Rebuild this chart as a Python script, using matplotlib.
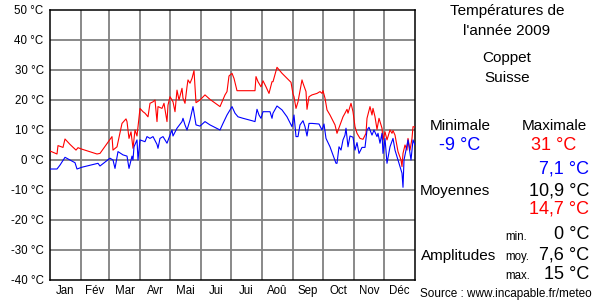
import matplotlib
matplotlib.use('Agg')
import matplotlib.pyplot as plt
import numpy as np

plt.rcParams['font.family'] = ['Liberation Sans', 'DejaVu Sans']

# daily max / min temperatures (day of year, degC)
max_days = [0, 7, 8, 13, 15, 20, 26, 28, 32, 47, 50, 62, 63, 67, 72, 76, 77, 79, 81, 83,
            85, 87, 88, 90, 93, 95, 98, 100, 103, 105, 107, 108, 112, 114, 117, 118, 120,
            123, 125, 127, 129, 132, 133, 135, 137, 138, 140, 142, 144, 146, 150, 155, 160,
            170, 175, 177, 179, 182, 184, 187, 205, 206, 208, 211, 213, 216, 219, 222, 223,
            227, 232, 241, 243, 244, 246, 248, 252, 253, 256, 257, 259, 262, 267, 270, 272,
            273, 275, 277, 280, 285, 287, 290, 293, 295, 297, 298, 301, 303, 305, 307, 310,
            313, 316, 317, 320, 322, 323, 325, 327, 329, 332, 333, 335, 337, 340, 342, 343,
            345, 348, 351, 352, 353, 355, 357, 358, 360, 362, 363, 365]
max_temps = [3.0, 2.0, 4.8, 4.2, 7.0, 5.2, 3.3, 4.1, 3.6, 2.0, 2.2, 7.8, 3.3, 4.4, 12.2, 13.7,
             12.8, 7.2, 9.4, 3.9, 10.0, 8.0, 11.1, 17.2, 16.1, 15.6, 14.4, 18.9, 19.4, 20.0,
             12.8, 17.8, 17.2, 18.9, 12.8, 18.3, 21.1, 19.4, 16.1, 23.3, 20.0, 23.9, 20.6,
             18.9, 24.4, 26.7, 25.6, 27.2, 29.8, 19.1, 20.0, 21.7, 20.2, 17.8, 21.7, 22.8,
             28.0, 28.9, 27.2, 23.1, 23.1, 27.8, 26.1, 24.4, 26.4, 24.4, 22.2, 26.1, 26.1,
             30.9, 28.9, 25.9, 22.0, 21.1, 17.2, 19.4, 26.7, 25.6, 22.8, 16.9, 21.1, 21.7,
             22.2, 22.8, 22.2, 23.1, 20.6, 16.7, 15.0, 11.7, 8.9, 11.7, 14.4, 15.6, 16.9,
             15.6, 18.9, 16.1, 11.1, 8.9, 7.2, 6.9, 8.9, 13.9, 17.8, 15.0, 17.2, 14.4, 10.2,
             13.9, 10.6, 6.7, 9.4, 6.7, 10.0, 8.9, 9.8, 8.3, 2.8, 0.0, -2.2, 2.2, 5.0, 3.3,
             7.2, 3.3, 7.2, 11.1, 11.0]

min_days = [0, 7, 10, 15, 20, 25, 27, 32, 48, 50, 60, 63, 65, 68, 73, 77, 79, 82, 83, 84,
            87, 88, 90, 95, 97, 100, 103, 107, 108, 110, 113, 117, 120, 122, 123, 127, 132,
            133, 135, 137, 140, 143, 146, 150, 155, 160, 170, 173, 177, 182, 185, 188, 193,
            202, 205, 207, 209, 211, 213, 220, 222, 223, 227, 232, 237, 242, 244, 246, 248,
            250, 253, 255, 257, 259, 262, 269, 272, 274, 276, 280, 286, 287, 289, 291, 293,
            295, 296, 298, 300, 303, 305, 307, 309, 312, 315, 317, 319, 322, 324, 327, 328,
            330, 332, 333, 335, 337, 340, 343, 345, 348, 350, 352, 353, 354, 356, 358, 361,
            363, 365]
min_temps = [-3.0, -3.0, -1.7, 0.9, 0.0, -0.9, -3.0, -2.4, -1.1, -2.0, 0.6, 0.0, -2.8, 2.8,
             1.7, 1.3, -2.8, 1.3, 0.0, 4.4, 6.7, 0.0, 6.7, 6.1, 7.8, 7.2, 7.8, 5.2, 3.9, 7.2,
             7.8, 5.6, 8.3, 10.0, 8.0, 10.6, 12.8, 13.9, 11.7, 10.0, 13.3, 17.8, 11.7, 11.3,
             12.8, 11.7, 10.0, 12.2, 15.0, 17.8, 15.6, 14.4, 13.9, 13.1, 12.8, 16.9, 15.0,
             13.9, 16.1, 16.1, 13.9, 15.6, 18.0, 16.7, 14.4, 11.1, 15.0, 7.8, 7.8, 11.7, 13.1,
             11.1, 8.0, 12.2, 12.2, 12.0, 10.0, 12.0, 7.2, 4.4, -1.1, -1.1, 4.4, 3.3, 6.7,
             8.3, 10.6, 4.4, 8.0, 7.6, 3.3, 5.8, 2.2, 4.2, 4.2, 10.0, 10.9, 8.3, 10.0, 7.8,
             8.9, 5.6, 8.9, 2.2, 7.2, -1.1, 4.4, 7.2, 3.3, 0.0, -2.2, -4.4, -9.1, 0.0, 3.3,
             6.7, 0.0, 6.7, 5.0]

months = ['Jan', 'Fév', 'Mar', 'Avr', 'Mai', 'Jui', 'Jui', 'Aoû', 'Sep', 'Oct', 'Nov', 'Déc']
month_len = [31, 28, 31, 30, 31, 30, 31, 31, 30, 31, 30, 31]
y_ticks = [-40, -30, -20, -10, 0, 10, 20, 30, 40, 50]

fig = plt.figure(figsize=(6, 3), dpi=100)
fig.patch.set_facecolor('white')
ax = fig.add_axes([50 / 600, 20 / 300, 365 / 600, 270 / 300])

bounds = np.concatenate([[0], np.cumsum(month_len)])
centers = (bounds[:-1] + bounds[1:]) / 2

for b in bounds[1:-1]:
    ax.axvline(b, color='#808080', lw=1.3, zorder=1)
for t in y_ticks[1:-1]:
    ax.axhline(t, color='#808080', lw=1.3, zorder=1)

ax.plot(max_days, max_temps, color='#ff0000', lw=0.8, zorder=3)
ax.plot(min_days, min_temps, color='#0000ff', lw=0.8, zorder=3)

ax.set_xlim(0, 365)
ax.set_ylim(-40, 50)
ax.set_yticks(y_ticks)
ax.set_yticklabels([f'{t} °C' for t in y_ticks])
ax.set_xticks(centers)
ax.set_xticklabels(months)
ax.tick_params(axis='y', length=0, pad=4.5, labelsize=8.3)
ax.tick_params(axis='x', length=0, pad=3.5, labelsize=8.3)
for s in ax.spines.values():
    s.set_color('black')
    s.set_linewidth(1.1)


def ftext(x, y, s, **kw):
    fig.text(x / 600, 1 - y / 300, s, va='baseline', **kw)


ftext(507, 15, 'Températures de', ha='center', fontsize=11)
ftext(507, 35, "l'année 2009", ha='center', fontsize=11)
ftext(507, 62, 'Coppet', ha='center', fontsize=11)
ftext(507, 82, 'Suisse', ha='center', fontsize=11)

ftext(460, 130, 'Minimale', ha='center', fontsize=11)
ftext(554, 130, 'Maximale', ha='center', fontsize=11)
ftext(460, 150, '-9 °C', ha='center', fontsize=13, color='#0000ff')
ftext(554, 150, '31 °C', ha='center', fontsize=13, color='#ff0000')

ftext(589, 174, '7,1 °C', ha='right', fontsize=13, color='#0000ff')
ftext(420, 195, 'Moyennes', ha='left', fontsize=11)
ftext(589, 195, '10,9 °C', ha='right', fontsize=13, color='black')
ftext(589, 214, '14,7 °C', ha='right', fontsize=13, color='#ff0000')

ftext(505, 240, 'min.', ha='left', fontsize=8.3)
ftext(589, 239, '0 °C', ha='right', fontsize=13)
ftext(421, 260, 'Amplitudes', ha='left', fontsize=11)
ftext(505, 260, 'moy.', ha='left', fontsize=8.3)
ftext(589, 259, '7,6 °C', ha='right', fontsize=13)
ftext(505, 279, 'max.', ha='left', fontsize=8.3)
ftext(589, 279, '15 °C', ha='right', fontsize=13)

ftext(420, 297.5, 'Source : www.incapable.fr/meteo', ha='left', fontsize=8.5)

fig.savefig('out.png', dpi=100)
